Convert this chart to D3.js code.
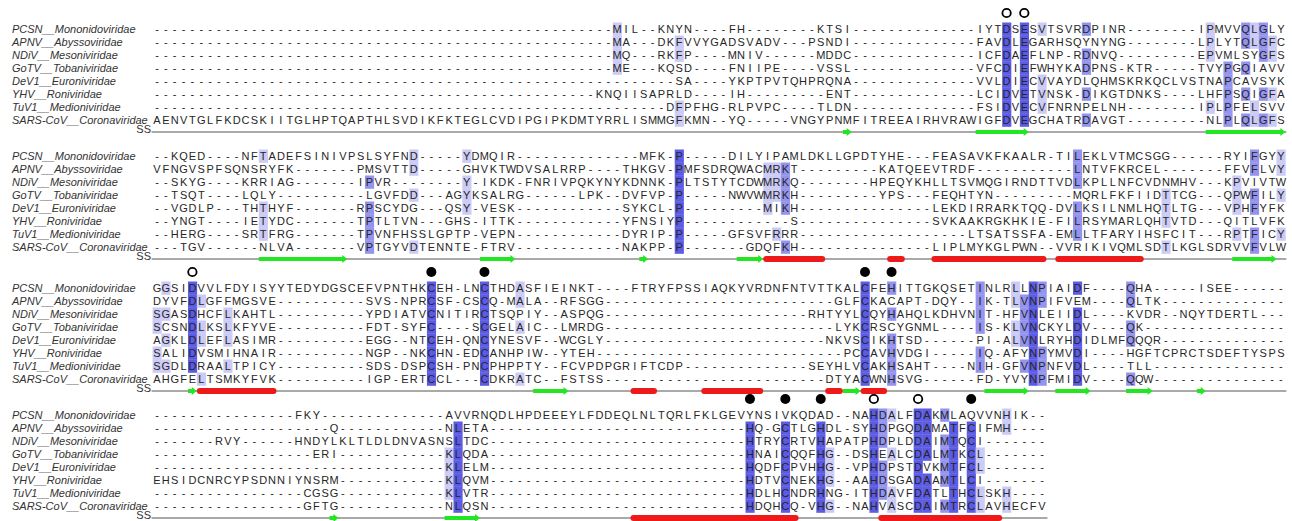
<!DOCTYPE html>
<html>
<head>
<meta charset="utf-8">
<script src="https://cdn.jsdelivr.net/npm/d3@7"></script>
<style>
  body { margin: 0; background: #fff; }
  svg { display: block; font-family: "Liberation Sans", Arial, sans-serif; }
  .seq-name { font-size: 11px; font-style: italic; fill: #333; }
  .residue { font-size: 11px; fill: #262626; text-anchor: middle; }
  .ss-label { font-size: 11px; fill: #333; text-anchor: end; }
  .ss-line { stroke: #8c8c8c; stroke-width: 1.6; }
  .strand { fill: #22e622; }
  .helix { fill: #ee1a1a; }
</style>
</head>
<body>
<div id="chart"></div>
<script>
// gap run in an alignment row
const gap = n => '-'.repeat(n);

const names = [
  'PCSN__Mononidoviridae', 'APNV__Abyssoviridae', 'NDiV__Mesoniviridae', 'GoTV__Tobaniviridae',
  'DeV1__Euroniviridae', 'YHV__Roniviridae', 'TuV1__Medioniviridae', 'SARS-CoV__Coronaviridae'
];

const block1 = [
  gap(52) + 'MIL--KNYN' + gap(4) + 'FH' + gap(8) + 'KTSI' + gap(14) + 'IYTDSESVTSVRDPINR' + gap(8) + 'IPMVVQLGLY',
  gap(52) + 'MA' + gap(3) + 'DKFVVYGADSVADV' + gap(3) + 'PSNDI' + gap(14) + 'FAVDLEGARHSQYNYNG' + gap(8) + 'LPLYTQLGFC',
  gap(52) + 'MQ' + gap(3) + 'RKFP' + gap(4) + 'MNIV' + gap(6) + 'MDDC' + gap(14) + 'ICFDAEFLNP-RDNVQ' + gap(9) + 'EPVMLSYGFS',
  gap(52) + 'ME' + gap(3) + 'KQSD' + gap(4) + 'FNIIPE' + gap(4) + 'VSSL' + gap(14) + 'VFCDIEFWHYKADPNS-KTR' + gap(5) + 'TVYPGQIAVV',
  gap(59) + 'SA' + gap(4) + 'YKPTPVTQHPRQNA' + gap(14) + 'VVLDIECVVAYDLQHMSKRKQCLVSTNAPCAVSYK',
  gap(50) + 'KNQIISAPRLD' + gap(4) + 'IH' + gap(9) + 'ENT' + gap(14) + 'LCIDVETVNSK-DIKGTDNKS' + gap(4) + 'LHFPSQIGFA',
  gap(58) + 'DFPFHG-RLPVPC' + gap(4) + 'TLDN' + gap(14) + 'FSIDVECVFNRNPELNH' + gap(8) + 'IPLPFELSVV',
  'AENVTGLFKDCSKIITGLHPTQAPTHLSVDIKFKTEGLCVDIPGIPKDMTYRRLISMMGFKMN--YQ' + gap(5) + 'VNGYPNMFITREEAIRHVRAWIGFDVEGCHATRDAVGT' + gap(9) + 'NLPLQLGFS'
];

const block2 = [
  '--KQED' + gap(4) + 'NFTADEFSINIVPSLSYFND' + gap(5) + 'YDMQIR' + gap(14) + 'MFK-P' + gap(5) + 'DILYIPAMLDKLLGPDTYHE' + gap(3) + 'FEASAVKFKAALR-TILEKLVTMCSGG' + gap(6) + 'RYIFGYY',
  'VFNGVSPFSQNSRYFK' + gap(7) + 'PMSVTTD' + gap(5) + 'GHVKTWDVSALRRP' + gap(4) + 'THKGV-PMFSDRQWACMRKT' + gap(9) + 'KATQEEVTRDF' + gap(11) + 'LNTVFKRCEL' + gap(7) + 'FFVFLVY',
  '--SKYG' + gap(4) + 'KRRIAG' + gap(7) + 'IPVR' + gap(8) + 'Y-IKDK-FNRIVPQKYNYKDNNK-PLTSTYTCDWMRKQ' + gap(8) + 'HPEQYKHLLTSVMQGIRNDTTVDLKPLLNFCVDNMHV' + gap(3) + 'KPVIVTW',
  '--TSQT' + gap(4) + 'LQLY' + gap(10) + 'LGVFDD' + gap(3) + 'AGYKSALRG' + gap(6) + 'LPK--DVFVP-P' + gap(5) + 'NWVWMRKH' + gap(9) + 'YPS' + gap(3) + 'FEQHTYN' + gap(9) + 'MQRLFKFIIDTTCG' + gap(3) + 'QPWFILY',
  '--VGDLP' + gap(3) + 'THTHYF' + gap(7) + 'RPSCYDG' + gap(3) + 'QSY-VESK' + gap(12) + 'SYKCL-P' + gap(9) + 'MIKH' + gap(15) + 'LEKDIRRARKTQQ-DVLKSILNMLHQTLTG' + gap(3) + 'VPHFYFK',
  '--YNGT' + gap(4) + 'IETYDC' + gap(7) + 'TPTLTVN' + gap(3) + 'GHS-ITTK' + gap(12) + 'YFNSIYP' + gap(12) + 'S' + gap(15) + 'SVKAAKRGKHKIE-FILRSYMARLQHTVTD' + gap(3) + 'QITLVFK',
  '--HERG' + gap(4) + 'SRTFRG' + gap(7) + 'TPVNFHSSLGPTP-VEPN' + gap(12) + 'DYRIP-P' + gap(5) + 'GFSVFRRR' + gap(19) + 'LTSATSSFA-EMLLTFARYIHSFCIT' + gap(3) + 'RPTFICY',
  gap(3) + 'TGV' + gap(6) + 'NLVA' + gap(7) + 'VPTGYVDTENNTE-FTRV' + gap(12) + 'NAKPP-P' + gap(7) + 'GDQFKH' + gap(15) + 'LIPLMYKGLPWN--VVRIKIVQMLSDTLKGLSDRVVFVLW'
];

const block3 = [
  'GGSIDVVLFDYISYYTEDYDGSCEFVPNTHKCEH-LNCTHDASFIEINKT' + gap(4) + 'FTRYFPSSIAQKYVRDNFNTVTTKALCFEHITTGKQSETINLRLLNPIAIDF' + gap(4) + 'QHA' + gap(5) + 'ISEE' + gap(6),
  'DYVFDLGFFMGSVE' + gap(10) + 'SVS-NPRCSF-CSCQ-MALA--RFSGG' + gap(26) + 'GLFCKACAPT-DQY--IK-TLVNPIFVEM' + gap(4) + 'QLTK' + gap(14),
  'SGASDHCFLKAHTL' + gap(10) + 'YPDIATVCNITIRCTSQPIY--ASPQG' + gap(23) + 'RHTYYLCQYHAHQLKDHVNIT-HFVNLEIIDL' + gap(4) + 'KVDR--NQYTDERTL' + gap(3),
  'SCSNDLKSLKFYVE' + gap(10) + 'FDT-SYFC' + gap(4) + 'SCGELAIC--LMRDG' + gap(26) + 'LYKCRSCYGNML' + gap(4) + 'IS-KLVNCKYLDV' + gap(4) + 'QK' + gap(16),
  'AGKLDLEFLASIMR' + gap(10) + 'EGG--NTCEH-QNCYNESVF--WCGLY' + gap(25) + 'NKVSCIKHTSD' + gap(6) + 'PI-ALVNLRYHDIDLMFQQQR' + gap(14),
  'SALIDVSMIHNAIR' + gap(10) + 'NGP--NKCHN-EDCANHPIW--YTEH' + gap(28) + 'PCCAVHVDGI' + gap(5) + 'IQ-AFYNPYMVDI' + gap(4) + 'HGFTCPRCTSDEFTYSPS',
  'SGDLDRAALTPICY' + gap(10) + 'SDS-DSPCSH-PNCPHPPTY--FCVPDPGRIFTCDP' + gap(14) + 'SEYHLVCAKHSAHT' + gap(4) + 'NIH-GFVNPNFVDL' + gap(4) + 'TLL' + gap(15),
  'AHGFELTSMKYFVK' + gap(10) + 'IGP-ERTCCL' + gap(3) + 'CDKRATC--FSTSS' + gap(25) + 'DTYACWNHSVG' + gap(6) + 'FD-YVYNPFMIDV' + gap(4) + 'QQW' + gap(15)
];

const block4 = [
  gap(16) + 'FKY' + gap(14) + 'AVVRNQDLHPDEEEYLFDDEQLNLTQRLFKLGEVYNSIVKQDAD--NAHDALFDAKMLAQVVNHIK--',
  gap(20) + 'Q' + gap(12) + 'NLETA' + gap(29) + 'HQ-GCTLGHDL-SYHDPGQDAMATFCIFMH' + gap(4),
  gap(7) + 'RVY' + gap(6) + 'HNDYLKLTLDLDNVASNSLTDC' + gap(29) + 'HTRYCRTVHAPATPHDPLDDAIMTQCI' + gap(7),
  gap(18) + 'ERI' + gap(12) + 'KLQDA' + gap(29) + 'HNAICQQFHG--DSHEALCDALMTKCL' + gap(7),
  gap(33) + 'KLELM' + gap(29) + 'HQDFCPVHHG--VPHDPSTDVKMTFCL' + gap(7),
  'EHSIDCNRCYPSDNNIYNSRM' + gap(12) + 'KLQVM' + gap(29) + 'HDTVCNEKHG--AAHDSGADAAMTLCI' + gap(7),
  gap(17) + 'CGSG' + gap(12) + 'KLVTR' + gap(29) + 'HDLHCNDRHNG-ITHDAVFDATLTHCLSKH' + gap(4),
  gap(17) + 'GFTG' + gap(12) + 'NLQSN' + gap(29) + 'HDQHCQ-VHG--NAHVASCDAIMTRCLAVHECFV'
];

// secondary structure: [type, first column, last column]; E = strand, H = helix
const ss1 = [['E', 78, 78], ['E', 93, 98], ['E', 119, 127]];
const ss2 = [['E', 12, 21], ['E', 37, 40], ['E', 55, 55], ['E', 66, 68], ['H', 69, 75], ['H', 83, 84],
  ['H', 88, 100], ['H', 102, 111], ['E', 122, 126]];
const ss3 = [['E', 4, 4], ['H', 5, 13], ['E', 43, 46], ['H', 54, 56], ['H', 62, 68], ['H', 76, 77],
  ['E', 78, 79], ['H', 80, 82], ['E', 94, 98], ['E', 102, 105], ['E', 110, 112], ['E', 118, 118]];
const ss4 = [['E', 20, 20], ['E', 33, 36], ['H', 54, 72], ['H', 82, 95]];

// marked columns above each block
const openMarks = [[96, 98], [], [4], [81, 86]];
const filledMarks = [[], [], [31, 37, 80, 83], [67, 71, 75, 92]];

const blocks = [block1, block2, block3, block4].map((rows, i) => ({
  rows, ss: [ss1, ss2, ss3, ss4][i], open: openMarks[i], filled: filledMarks[i]
}));

class AlignmentChart {

  constructor(_config, _data) {
    this.config = {
      parentElement: _config.parentElement,
      containerWidth: _config.containerWidth || 1292,
      containerHeight: _config.containerHeight || 521,
      nameX: 12,
      seqX: 157,
      cellWidth: 8.85,
      rowHeight: 13,
      blockTops: [29, 156, 288, 415]
    };
    this.data = _data;
    this.initVis();
  }

  initVis() {
    let vis = this;
    const cfg = vis.config;

    vis.svg = d3.select(cfg.parentElement).append('svg')
        .attr('width', cfg.containerWidth)
        .attr('height', cfg.containerHeight);

    // one column grid shared by all blocks
    vis.x = d3.scaleLinear()
        .domain([0, 127])
        .range([cfg.seqX, cfg.seqX + 127 * cfg.cellWidth]);

    vis.y = d3.scaleLinear()
        .domain([0, 1])
        .range([0, cfg.rowHeight]);

    // percentage identity shading (Jalview style)
    vis.shade = d3.scaleThreshold()
        .domain([0.4, 0.6, 0.8])
        .range([null, '#cbcbf6', '#9494ee', '#5b5be3']);

    vis.renderVis();
  }

  renderVis() {
    let vis = this;
    const cfg = vis.config;
    const cw = cfg.cellWidth;
    const nRows = names.length;
    const ssY = vis.y(nRows) - 1;

    const block = vis.svg.selectAll('.block')
        .data(vis.data)
      .join('g')
        .attr('class', 'block')
        .attr('transform', (d, i) => `translate(0,${cfg.blockTops[i]})`);

    block.each(function(d) {
      const g = d3.select(this);
      const len = d.rows[0].length;

      // most frequent residue per column
      const cols = d3.range(len).map(c => {
        const counts = d3.rollup(d.rows.map(s => s[c]).filter(ch => ch !== '-'), v => v.length, ch => ch);
        return {counts, top: d3.max(counts.values()) || 0};
      });

      const cells = d.rows.flatMap((seq, r) => Array.from(seq, (ch, c) => ({
        r, c, ch,
        fill: ch !== '-' && cols[c].counts.get(ch) === cols[c].top ? vis.shade(cols[c].top / nRows) : null
      })));

      g.selectAll('.shade')
          .data(cells.filter(e => e.fill))
        .join('rect')
          .attr('class', 'shade')
          .attr('x', e => vis.x(e.c) - cw / 2)
          .attr('y', e => vis.y(e.r) - cfg.rowHeight / 2)
          .attr('width', cw + 0.3)
          .attr('height', cfg.rowHeight + 0.3)
          .attr('fill', e => e.fill);

      g.selectAll('.residue')
          .data(cells)
        .join('text')
          .attr('class', 'residue')
          .attr('x', e => vis.x(e.c))
          .attr('y', e => vis.y(e.r) + 4)
          .text(e => e.ch);

      g.selectAll('.seq-name')
          .data(names)
        .join('text')
          .attr('class', 'seq-name')
          .attr('x', cfg.nameX)
          .attr('y', (n, r) => vis.y(r) + 4)
          .text(n => n);

      // secondary structure track
      g.append('text')
          .attr('class', 'ss-label')
          .attr('x', cfg.seqX - 6)
          .attr('y', ssY + 1)
          .text('SS');

      g.append('line')
          .attr('class', 'ss-line')
          .attr('x1', vis.x(-0.5) - 1)
          .attr('x2', vis.x(len - 0.5) + 1)
          .attr('y1', ssY)
          .attr('y2', ssY);

      g.selectAll('.helix')
          .data(d.ss.filter(s => s[0] === 'H'))
        .join('rect')
          .attr('class', 'helix')
          .attr('x', s => vis.x(s[1] - 0.5))
          .attr('y', ssY - 3)
          .attr('width', s => vis.x(s[2] + 0.5) - vis.x(s[1] - 0.5))
          .attr('height', 6)
          .attr('rx', 3);

      g.selectAll('.strand')
          .data(d.ss.filter(s => s[0] === 'E'))
        .join('path')
          .attr('class', 'strand')
          .attr('d', s => {
            const x0 = vis.x(s[1] - 0.5), x1 = vis.x(s[2] + 0.5);
            const head = Math.min(5, (x1 - x0) * 0.6);
            return `M${x0},${ssY - 2}H${x1 - head}V${ssY - 4}L${x1},${ssY}L${x1 - head},${ssY + 4}V${ssY + 2}H${x0}Z`;
          });

      // marker circles above the block
      g.selectAll('.mark-open')
          .data(d.open)
        .join('circle')
          .attr('class', 'mark-open')
          .attr('cx', c => vis.x(c))
          .attr('cy', -16)
          .attr('r', 4.2)
          .attr('fill', '#fff')
          .attr('stroke', '#000')
          .attr('stroke-width', 1.8);

      g.selectAll('.mark-filled')
          .data(d.filled)
        .join('circle')
          .attr('class', 'mark-filled')
          .attr('cx', c => vis.x(c))
          .attr('cy', -16)
          .attr('r', 5)
          .attr('fill', '#000');
    });
  }
}

const chart = new AlignmentChart({ parentElement: '#chart' }, blocks);
</script>
</body>
</html>
